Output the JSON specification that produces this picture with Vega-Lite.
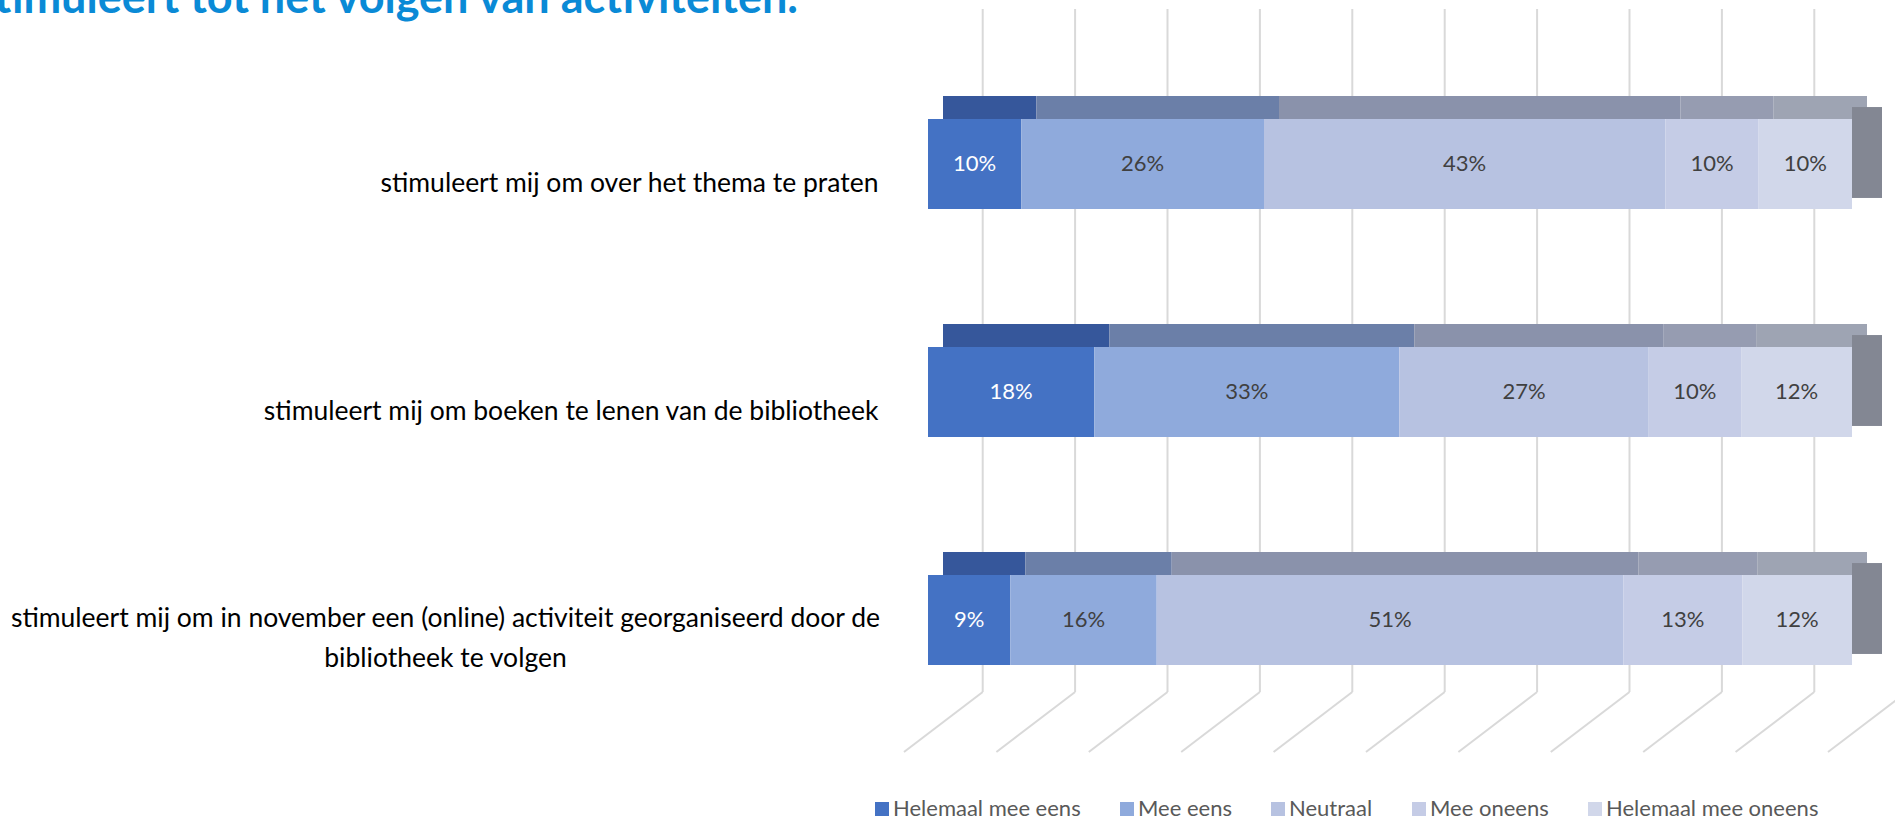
{
  "$schema": "https://vega.github.io/schema/vega-lite/v6.json",
  "width": 924,
  "height": 684,
  "autosize": {"type": "none"},
  "padding": {"left": 928, "top": 50, "right": 43, "bottom": 88},
  "background": "white",
  "config": {"view": {"stroke": null}, "font": "Lato"},
  "title": {
    "text": "stimuleert tot het volgen van activiteiten.",
    "anchor": "end",
    "frame": "group",
    "font": "Lato",
    "fontSize": 45,
    "fontWeight": "bold",
    "color": "#0a8ad6",
    "baseline": "alphabetic",
    "offset": -50,
    "dx": -1054
  },
  "datasets": {
    "answers": [
      {"stelling": "stimuleert mij om over het thema te praten", "antwoord": "Helemaal mee eens", "k": 1, "pct": 0.10},
      {"stelling": "stimuleert mij om over het thema te praten", "antwoord": "Mee eens", "k": 2, "pct": 0.26},
      {"stelling": "stimuleert mij om over het thema te praten", "antwoord": "Neutraal", "k": 3, "pct": 0.43},
      {"stelling": "stimuleert mij om over het thema te praten", "antwoord": "Mee oneens", "k": 4, "pct": 0.10},
      {"stelling": "stimuleert mij om over het thema te praten", "antwoord": "Helemaal mee oneens", "k": 5, "pct": 0.10},
      {"stelling": "stimuleert mij om boeken te lenen van de bibliotheek", "antwoord": "Helemaal mee eens", "k": 1, "pct": 0.18},
      {"stelling": "stimuleert mij om boeken te lenen van de bibliotheek", "antwoord": "Mee eens", "k": 2, "pct": 0.33},
      {"stelling": "stimuleert mij om boeken te lenen van de bibliotheek", "antwoord": "Neutraal", "k": 3, "pct": 0.27},
      {"stelling": "stimuleert mij om boeken te lenen van de bibliotheek", "antwoord": "Mee oneens", "k": 4, "pct": 0.10},
      {"stelling": "stimuleert mij om boeken te lenen van de bibliotheek", "antwoord": "Helemaal mee oneens", "k": 5, "pct": 0.12},
      {"stelling": "stimuleert mij om in november een (online) activiteit georganiseerd door de bibliotheek te volgen", "antwoord": "Helemaal mee eens", "k": 1, "pct": 0.09},
      {"stelling": "stimuleert mij om in november een (online) activiteit georganiseerd door de bibliotheek te volgen", "antwoord": "Mee eens", "k": 2, "pct": 0.16},
      {"stelling": "stimuleert mij om in november een (online) activiteit georganiseerd door de bibliotheek te volgen", "antwoord": "Neutraal", "k": 3, "pct": 0.51},
      {"stelling": "stimuleert mij om in november een (online) activiteit georganiseerd door de bibliotheek te volgen", "antwoord": "Mee oneens", "k": 4, "pct": 0.13},
      {"stelling": "stimuleert mij om in november een (online) activiteit georganiseerd door de bibliotheek te volgen", "antwoord": "Helemaal mee oneens", "k": 5, "pct": 0.12}
    ],
    "ticks": [
      {"pos": 0}, {"pos": 0.1}, {"pos": 0.2}, {"pos": 0.3}, {"pos": 0.4}, {"pos": 0.5},
      {"pos": 0.6}, {"pos": 0.7}, {"pos": 0.8}, {"pos": 0.9}, {"pos": 1}
    ]
  },
  "layer": [
    {
      "data": {"name": "ticks"},
      "mark": {"type": "rule", "color": "#d9d9d9", "strokeWidth": 2, "xOffset": 54.7, "yOffset": -41, "y2Offset": -42},
      "encoding": {
        "x": {"field": "pos", "type": "quantitative", "axis": null, "scale": {"domain": [0, 1], "nice": false}},
        "y": {"value": 0},
        "y2": {"value": "height"}
      }
    },
    {
      "data": {"name": "ticks"},
      "mark": {"type": "rule", "color": "#d9d9d9", "strokeWidth": 2, "xOffset": 54.7, "yOffset": -42, "x2Offset": -24, "y2Offset": 18},
      "encoding": {
        "x": {"field": "pos", "type": "quantitative", "axis": null},
        "x2": {"field": "pos"},
        "y": {"value": "height"},
        "y2": {"value": "height"}
      }
    },
    {
      "data": {"name": "answers"},
      "mark": {"type": "bar", "height": 23, "yOffset": -56.5, "xOffset": 15, "x2Offset": 15},
      "encoding": {
        "y": {"field": "stelling", "type": "nominal", "sort": null, "scale": {"paddingInner": 0.605, "paddingOuter": 0.3025}},
        "x": {"field": "pct", "type": "quantitative", "stack": "normalize", "axis": null},
        "fill": {
          "field": "antwoord", "type": "nominal", "legend": null,
          "scale": {
            "range": ["#36579b", "#9ea4b3", "#6b7fa8", "#969cb1", "#8a92ab"]
          }
        },
        "order": {"field": "k", "type": "quantitative"}
      }
    },
    {
      "data": {"name": "answers"},
      "mark": {"type": "bar", "height": 90, "yOffset": -11.5, "x2Offset": 30, "color": "#838793"},
      "encoding": {
        "y": {"field": "stelling", "type": "nominal", "sort": null},
        "x": {"datum": 1, "type": "quantitative", "axis": null},
        "x2": {"datum": 1}
      }
    },
    {
      "data": {"name": "answers"},
      "mark": {"type": "bar"},
      "encoding": {
        "y": {
          "field": "stelling", "type": "nominal", "sort": null,
          "axis": {
            "title": null, "domain": false, "ticks": false, "tickSize": 0, "grid": false,
            "labelFont": "Lato", "labelFontSize": 26.5, "labelColor": "#000000", "labelLimit": 1000,
            "labelOffset": 20, "labelBaseline": "middle",
            "labelAlign": "right", "labelPadding": 50,
            "labelExpr": "indexof(datum.label, 'november') >= 0 ? '' : datum.label"
          }
        },
        "x": {"field": "pct", "type": "quantitative", "stack": "normalize", "axis": null},
        "color": {
          "field": "antwoord", "type": "nominal",
          "scale": {
            "domain": ["Helemaal mee eens", "Mee eens", "Neutraal", "Mee oneens", "Helemaal mee oneens"],
            "range": ["#4472c4", "#8faadc", "#b7c2e1", "#c5cce6", "#d1d7ea"]
          },
          "legend": {
            "orient": "none", "legendX": -57, "legendY": 748, "direction": "horizontal",
            "title": null, "symbolType": "square", "symbolSize": 196, "symbolStrokeWidth": 0,
            "labelFont": "Lato", "labelFontSize": 22, "labelColor": "#595959", "labelLimit": 400,
            "columnPadding": 35, "labelOffset": 0
          }
        },
        "order": {"field": "k", "type": "quantitative"}
      }
    },
    {
      "data": {"name": "answers"},
      "mark": {"type": "text", "font": "Lato", "fontSize": 22, "baseline": "middle", "align": "center"},
      "encoding": {
        "y": {"field": "stelling", "type": "nominal", "sort": null},
        "x": {"field": "pct", "type": "quantitative", "stack": "normalize", "bandPosition": 0.5, "axis": null},
        "text": {"field": "pct", "type": "quantitative", "format": ".0%"},
        "color": {"condition": {"test": "datum.k == 1", "value": "#ffffff"}, "value": "#404040"},
        "order": {"field": "k", "type": "quantitative"}
      }
    },
    {
      "data": {"name": "answers"},
      "transform": [{"filter": "datum.k == 1 && indexof(datum.stelling, 'november') >= 0"}],
      "mark": {"type": "text", "font": "Lato", "fontSize": 26.5, "baseline": "middle", "align": "center", "lineHeight": 40, "color": "#000000", "xOffset": -482.5, "yOffset": -1},
      "encoding": {
        "y": {"field": "stelling", "type": "nominal", "sort": null},
        "x": {"datum": 0, "type": "quantitative", "axis": null},
        "text": {"value": ["stimuleert mij om in november een (online) activiteit georganiseerd door de", "bibliotheek te volgen"]}
      }
    }
  ]
}
